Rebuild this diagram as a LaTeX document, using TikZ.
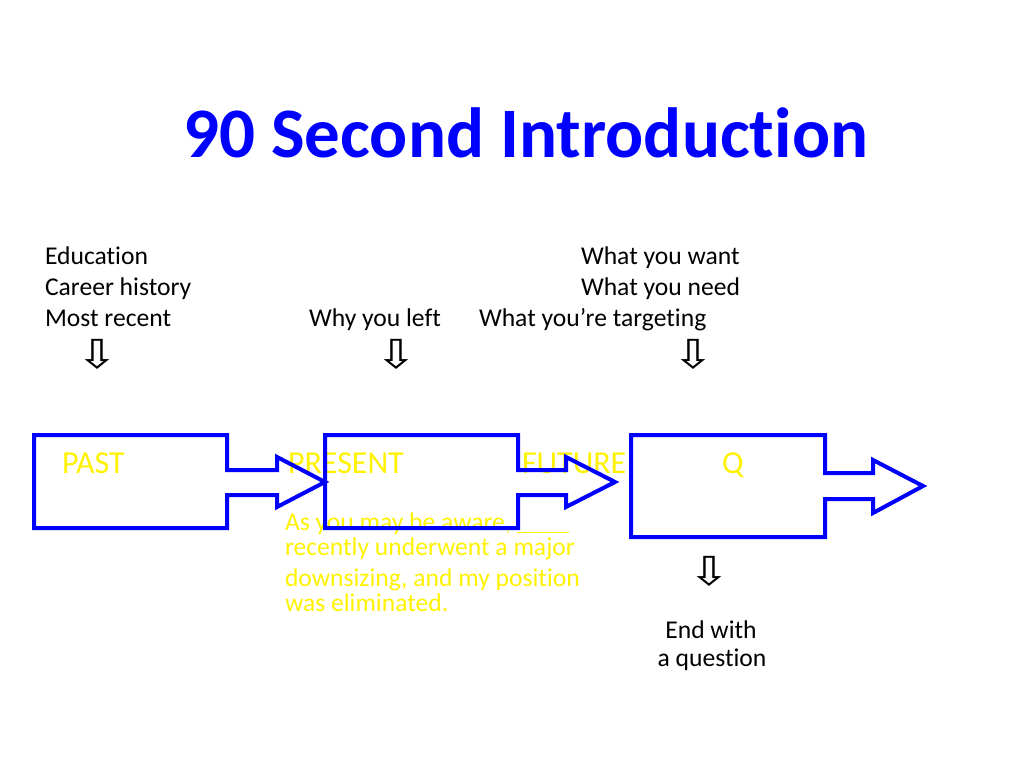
\documentclass[tikz,border=0pt]{standalone}
\usepackage{fontspec}
\usepackage{graphicx}
\setmainfont[Ligatures={NoCommon}]{Carlito}
\newfontfamily\symfont{DejaVu Sans}
\newcommand{\wdarrow}{\scalebox{1.25}[1]{⇩}}
\begin{document}
\begin{tikzpicture}[x=1pt,y=-1pt,
  body/.style={inner sep=0pt,outer sep=0pt,font=\fontsize{25.6}{30.7}\selectfont,text=black},
  ylw/.style={inner sep=0pt,outer sep=0pt,font=\fontsize{25.6}{30.7}\selectfont,text=yellow},
  lbl/.style={inner sep=0pt,outer sep=0pt,font=\fontsize{32}{38}\selectfont,text=yellow},
  darrow/.style={inner sep=0pt,outer sep=0pt,font=\symfont\fontsize{40}{40}\selectfont,text=black},
  callout/.style={draw=blue,line width=4pt,line join=miter}]
\useasboundingbox (0,0) rectangle (1024,768);
\fill[white] (0,0) rectangle (1024,768);
% title
\node[anchor=base west,inner sep=0pt,font=\bfseries\fontsize{71}{80}\selectfont,text=blue] (title) at (183,157) {90 Second Introduction};
% upper texts
\node[body,anchor=base west] (edu) at (45,264) {Education};
\node[body,anchor=base west] (career) at (45,295) {Career history};
\node[body,anchor=base west] (recent) at (45,326) {Most recent};
\node[body,anchor=base west] (why) at (309,326) {Why you left};
\node[body,anchor=base west] (want) at (581,264) {What you want};
\node[body,anchor=base west] (need) at (581,295) {What you need};
\node[body,anchor=base west] (target) at (479,326) {What you’re targeting};
% down arrows
\node[darrow] (d1) at (97,354) {\wdarrow};
\node[darrow] (d2) at (396,354) {\wdarrow};
\node[darrow] (d3) at (693,354) {\wdarrow};
\node[darrow] (d4) at (709,571) {\wdarrow};
\node[body,anchor=base] (end1) at (711,638) {End with};
\node[body,anchor=base] (end2) at (712,666) {a question};
% yellow labels (under the shapes)
\node[lbl,anchor=base west] (past) at (62,473) {PAST};
\node[lbl,anchor=base west] (present) at (288,473) {PRESENT};
\node[lbl,anchor=base west] (future) at (522,473) {FUTURE};
\node[lbl,anchor=base west] (q) at (722,473) {Q};
\node[ylw,anchor=base west] (y1) at (285,530) {As you may be aware, \rule[-3pt]{52pt}{1.5pt}};
\node[ylw,anchor=base west] (y2) at (285,555) {recently underwent a major};
\node[ylw,anchor=base west] (y3) at (285,586) {downsizing, and my position};
\node[ylw,anchor=base west] (y4) at (285,611) {was eliminated.};
% callout shapes
\draw[callout] (34,435) -- (227,435) -- (227,470) -- (277,470) -- (277,457) -- (325,482) -- (277,507) -- (277,495) -- (227,495) -- (227,528) -- (34,528) -- cycle;
\draw[callout] (325,435) -- (518,435) -- (518,470) -- (566,470) -- (566,457) -- (615,482) -- (566,507) -- (566,495) -- (518,495) -- (518,528) -- (325,528) -- cycle;
\draw[callout] (631,435) -- (825,435) -- (825,473) -- (873,473) -- (873,460) -- (923,486) -- (873,513) -- (873,499) -- (825,499) -- (825,537) -- (631,537) -- cycle;
\end{tikzpicture}
\end{document}
